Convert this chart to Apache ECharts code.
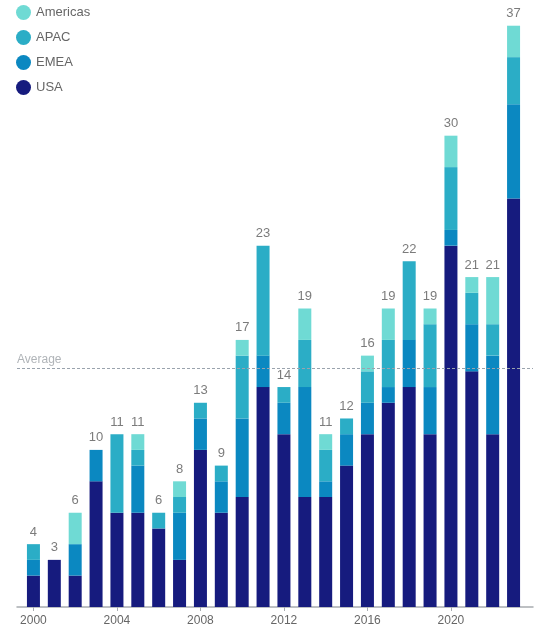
<!DOCTYPE html>
<html>
<head>
<meta charset="utf-8">
<script src="https://cdn.jsdelivr.net/npm/echarts@6/dist/echarts.min.js"></script>
<style>html,body{margin:0;padding:0;background:#fff}#c{width:540px;height:637px}</style>
</head>
<body>
<div id="c"></div>
<script>
var years = ['2000','2001','2002','2003','2004','2005','2006','2007','2008','2009','2010','2011','2012','2013','2014','2015','2016','2017','2018','2019','2020','2021','2022','2023'];
var usa      = [2,3,2,8,6,6,5,3,10,6,7,14,11,7,7,9,11,13,14,11,23,15,11,26];
var emea     = [1,0,2,2,0,3,0,3,2,2,5,2,2,7,1,2,2,1,3,3,1,3,5,6];
var apac     = [1,0,0,0,5,1,1,1,1,1,4,7,1,3,2,1,2,3,5,4,4,2,2,3];
var americas = [0,0,2,0,0,1,0,1,0,0,1,0,0,2,1,0,1,2,0,1,2,1,3,2];
var totals   = [4,3,6,10,11,11,6,8,13,9,17,23,14,19,11,12,16,19,22,19,30,21,21,37];
var averageValue = 15.2;

var colors = {USA:'#161b7e', EMEA:'#0b88c1', APAC:'#2badc6', Americas:'#6fdad4'};
function barSeries(name, arr){
  return {name:name, type:'bar', stack:'all', barWidth:13, data:arr,
    xAxisIndex:0, yAxisIndex:0,
    itemStyle:{color:colors[name]}, emphasis:{disabled:true}};
}
var font = '"Liberation Sans", Arial, sans-serif';
var chart = echarts.init(document.getElementById('c'));
var series = [barSeries('USA', usa), barSeries('EMEA', emea), barSeries('APAC', apac), barSeries('Americas', americas)];
series.push({
  type:'scatter', data:totals, symbolSize:1, itemStyle:{color:'rgba(0,0,0,0)'},
  xAxisIndex:0, yAxisIndex:0,
  label:{show:true, position:'top', distance:5, color:'#5a5a5a', fontSize:13, fontFamily:font},
  silent:true, z:5
});
series.push({
  type:'line', data:[], xAxisIndex:1, yAxisIndex:1, silent:true,
  markLine:{
    silent:true, symbol:'none',
    lineStyle:{color:'#9aa3ad', type:[3,2], width:1},
    label:{show:true, position:'insideStartTop', formatter:'Average', color:'#b0b4b8', fontSize:12, fontFamily:font, distance:[0,3]},
    data:[{yAxis:averageValue}]
  }
});
chart.setOption({
  animation:false,
  textStyle:{fontFamily:font},
  legend:{
    orient:'vertical', left:11, top:0, icon:'circle', itemWidth:15, itemHeight:15, itemGap:10,
    data:['Americas','APAC','EMEA','USA'],
    textStyle:{color:'#666', fontSize:13, fontFamily:font}
  },
  grid:[
    {left:23, right:16, top:10, bottom:30, containLabel:false},
    {left:17, right:7, top:10, bottom:30, containLabel:false}
  ],
  xAxis:[{
    type:'category', data:years, gridIndex:0,
    axisLine:{show:false},
    axisTick:{show:true, alignWithLabel:true, interval:3, length:4, lineStyle:{color:'#a8acb0'}},
    axisLabel:{color:'#666', fontSize:12, fontFamily:font, margin:8, interval:3}
  },{
    type:'value', gridIndex:1, min:0, max:1,
    splitLine:{show:false}, axisTick:{show:false}, axisLabel:{show:false},
    axisLine:{show:true, lineStyle:{color:'#a8acb0', width:1.5}}
  }],
  yAxis:[
    {type:'value', gridIndex:0, min:0, max:38, show:false, splitLine:{show:false}},
    {type:'value', gridIndex:1, min:0, max:38, show:false, splitLine:{show:false}}
  ],
  series:series
});
</script>
</body>
</html>
